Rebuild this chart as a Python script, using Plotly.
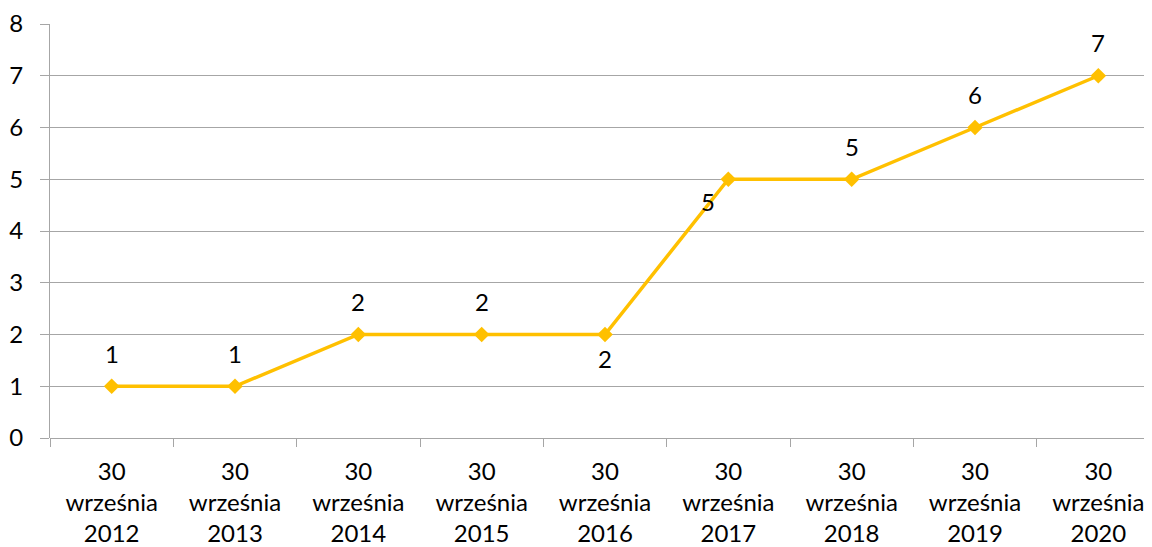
import plotly.graph_objects as go

categories = ["30<br>września<br>2012", "30<br>września<br>2013", "30<br>września<br>2014",
              "30<br>września<br>2015", "30<br>września<br>2016", "30<br>września<br>2017",
              "30<br>września<br>2018", "30<br>września<br>2019", "30<br>września<br>2020"]
values = [1, 1, 2, 2, 2, 5, 5, 6, 7]
# label offsets (x, y) in pixels
label_pos = [(0, 33), (0, 33), (0, 33), (0, 33), (0, -24), (-20, -22), (0, 33), (0, 33), (0, 33)]

FONT = "Lato, Calibri, Carlito, sans-serif"
FS = 24
LINE = "#FFC000"
GRID = "#A6A6A6"

fig = go.Figure()
fig.add_trace(go.Scatter(
    x=categories, y=values, mode="lines+markers",
    line=dict(color=LINE, width=3.5),
    marker=dict(symbol="diamond", size=12, color=LINE),
    hoverinfo="skip", showlegend=False,
))
for c, v, (dx, dy) in zip(categories, values, label_pos):
    fig.add_annotation(x=c, y=v, text=str(v), showarrow=False, xshift=dx, yshift=dy,
                       font=dict(family=FONT, size=FS, color="#000000"))

fig.update_layout(
    width=1152, height=547,
    margin=dict(l=42, r=0, t=16, b=117),
    paper_bgcolor="white", plot_bgcolor="white",
    font=dict(family=FONT, size=FS, color="#000000"),
)
fig.update_xaxes(
    type="category", range=[-0.5, 8.5], automargin=False,
    tickson="boundaries", ticks="outside", ticklen=8, tickcolor=GRID, tickwidth=1,
    showline=False, showgrid=False, zeroline=False,
    tickfont=dict(family=FONT, size=FS), ticklabelstandoff=17,
)
fig.update_yaxes(
    range=[0, 8], dtick=1, showgrid=True, gridcolor=GRID, gridwidth=1, automargin=False,
    ticks="outside", ticklen=9, tickcolor=GRID,
    showline=True, linecolor=GRID, linewidth=1, zeroline=True, zerolinecolor=GRID, zerolinewidth=1,
    tickfont=dict(family=FONT, size=FS), ticklabelstandoff=12,
)

fig.write_html("out.html")
